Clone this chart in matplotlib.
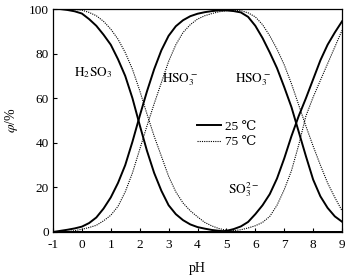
#!/usr/bin/env python3

"""Distribution of sulfite species vs pH at 25 and 75 degC."""

import matplotlib
matplotlib.use('Agg')
import matplotlib.pyplot as plt

# pH grid shared by all curves
ph = [-1, -0.75, -0.5, -0.25, 0, 0.25, 0.5, 0.75, 1, 1.25, 1.5, 1.75,
      2, 2.25, 2.5, 2.75, 3, 3.25, 3.5, 3.75, 4, 4.25, 4.5, 4.75,
      5, 5.25, 5.5, 5.75, 6, 6.25, 6.5, 6.75, 7, 7.25, 7.5, 7.75,
      8, 8.25, 8.5, 8.75, 9]

# 25 degC, fraction in %
h2so3_25 = [100, 100, 99.6, 99, 98, 95.5, 92.5, 88.5, 84, 77.5, 70, 60,
            48, 36.5, 26.5, 18.5, 12, 8, 5.3, 3.4, 2.2, 1.5, 0.9, 0.5,
            0.2, 0, 0, 0, 0, 0, 0, 0, 0, 0, 0, 0,
            0, 0, 0, 0, 0]
hso3_25 = [0, 0.5, 1, 1.6, 2.4, 4, 6.5, 10.5, 15.5, 22, 30, 40.5,
           52, 63, 73, 81.5, 88, 92.3, 95, 96.8, 97.9, 98.6, 99.1, 99.4,
           99.4, 99.1, 98.5, 96.5, 92.5, 87, 80.5, 73.5, 65, 56, 45, 34,
           23.5, 16, 10.8, 7, 4.6]
so3_25 = [0, 0, 0, 0, 0, 0, 0, 0, 0, 0, 0, 0,
          0, 0, 0, 0, 0, 0, 0, 0, 0, 0, 0, 0,
          0.5, 1.3, 2.5, 4.5, 8, 12, 17, 24, 33, 43, 52, 60,
          68.5, 77, 84, 89.5, 94.5]

# 75 degC, fraction in %
h2so3_75 = [100, 100, 100, 99.8, 99.5, 98.5, 97, 94.5, 91, 86.5, 80.5, 73,
            63.5, 53, 43, 34, 25, 18, 13, 9.5, 6.8, 4.3, 2.7, 1.5,
            0.8, 0.3, 0, 0, 0, 0, 0, 0, 0, 0, 0, 0,
            0, 0, 0, 0, 0]
hso3_75 = [0, 0, 0.2, 0.6, 1.2, 2, 3, 5, 7.5, 11.5, 18, 26.5,
           37, 47.5, 57.5, 67, 76.5, 84, 89.5, 93, 95.5, 97, 98, 98.8,
           99.3, 99.5, 99.3, 98.3, 96.5, 93, 88, 82, 75, 66.5, 57, 47.5,
           38.5, 30, 22, 15.5, 9.5]
so3_75 = [0, 0, 0, 0, 0, 0, 0, 0, 0, 0, 0, 0,
          0, 0, 0, 0, 0, 0, 0, 0, 0, 0, 0, 0,
          0.3, 0.6, 1, 1.8, 2.8, 4.3, 7, 12, 19, 27.5, 39, 52,
          60.5, 68, 75.5, 83, 90.5]

x_ticks = [-1, 0, 1, 2, 3, 4, 5, 6, 7, 8, 9]
y_ticks = [0, 20, 40, 60, 80, 100]

# species labels: (text, pH, percent)
species_labels = [
    (r'$\mathrm{H_2SO_3}$', 0.4, 71.5),
    (r'$\mathrm{HSO_3^-}$', 3.4, 68.5),
    (r'$\mathrm{HSO_3^-}$', 5.9, 68.5),
    (r'$\mathrm{SO_3^{2-}}$', 5.6, 19),
]


def main() -> None:
    plt.rcParams['font.family'] = ['Liberation Serif', 'DejaVu Serif']
    plt.rcParams['mathtext.fontset'] = 'stix'
    plt.rcParams['axes.unicode_minus'] = False

    fig = plt.figure(figsize=(3.53, 2.79), dpi=100)
    ax = fig.add_axes([0.150, 0.1685, 0.819, 0.799])

    solid = dict(color='black', linewidth=1.4, linestyle='-')
    dotted = dict(color='black', linewidth=0.8, linestyle=(0, (1, 1)))

    ax.plot(ph, h2so3_25, label='25 \u2103', **solid)
    ax.plot(ph, hso3_25, **solid)
    ax.plot(ph, so3_25, **solid)
    ax.plot(ph, h2so3_75, label='75 \u2103', **dotted)
    ax.plot(ph, hso3_75, **dotted)
    ax.plot(ph, so3_75, **dotted)

    for text, x, y in species_labels:
        ax.text(x, y, text, fontsize=9.5, ha='center', va='center')

    ax.set_xlim(-1, 9)
    ax.set_ylim(0, 100)
    ax.set_xticks(x_ticks)
    ax.set_yticks(y_ticks)
    ax.tick_params(direction='in', length=3, width=0.8, labelsize=9.5)
    ax.tick_params(axis='x', pad=5)
    ax.tick_params(axis='y', pad=3)
    for spine in ax.spines.values():
        spine.set_linewidth(0.9)

    ax.set_xlabel('pH', fontsize=10, labelpad=8)
    ax.set_ylabel(r'$\varphi$/%', fontsize=10, labelpad=6)

    ax.legend(loc='upper left', bbox_to_anchor=(0.498, 0.50), frameon=False,
              fontsize=9.5, handlelength=1.8, handletextpad=0.3,
              labelspacing=0.25, borderpad=0, borderaxespad=0)

    fig.savefig('out.png', dpi=100)
    plt.close(fig)


if __name__ == "__main__":
    main()
